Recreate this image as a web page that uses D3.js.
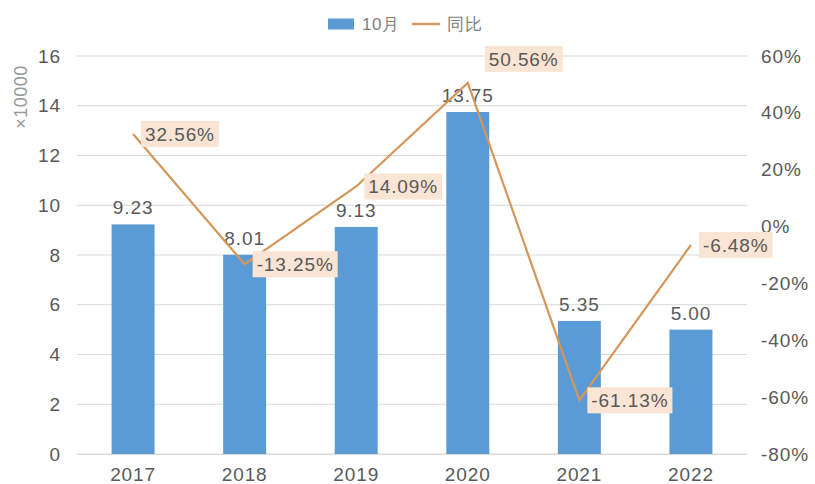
<!DOCTYPE html>
<html><head><meta charset="utf-8">
<script src="https://cdn.jsdelivr.net/npm/d3@7"></script>
<style>body{margin:0;background:#fff}svg{display:block;font-family:"Liberation Sans",Arial,sans-serif}</style>
</head><body><svg id="c" width="815" height="484"></svg>
<script>
const years = ["2017","2018","2019","2020","2021","2022"];
const octValues = [9.23, 8.01, 9.13, 13.75, 5.35, 5.00];
const yoyValues = [32.56, -13.25, 14.09, 50.56, -61.13, -6.48];
const leftTicks = [0,2,4,6,8,10,12,14,16];
const rightTicks = [-80,-60,-40,-20,0,20,40,60];
const seriesNames = ["10月","同比"];

const svg = d3.select("#c");
const m = {l:77, r:747, t:56, b:454};
const x = d3.scaleBand().domain(years).range([m.l, m.r]).paddingInner(0.615).paddingOuter(0.31);
const yL = d3.scaleLinear().domain([0,16]).range([m.b, m.t]);
const yR = d3.scaleLinear().domain([-80,60]).range([m.b, m.t]);
const txt = "#595959", grid = "#d9d9d9", barC = "#5b9bd5", lineC = "#d6965a", boxC = "#fae4d3";
const FS = "19px", LS = "0.9px";

// gridlines
svg.append("g").selectAll("line").data(leftTicks).join("line")
  .attr("x1", m.l).attr("x2", m.r).attr("y1", d=>yL(d)).attr("y2", d=>yL(d))
  .attr("stroke", grid).attr("stroke-width",1);

// left axis
const ga = svg.append("g").attr("transform",`translate(${m.l},0)`)
  .call(d3.axisLeft(yL).tickValues(leftTicks).tickSize(0).tickPadding(16));
ga.select(".domain").remove();
ga.selectAll("text").attr("fill",txt).style("font-size",FS).style("letter-spacing",LS);

// right axis
const gr = svg.append("g").attr("transform",`translate(${m.r},0)`)
  .call(d3.axisRight(yR).tickValues(rightTicks).tickSize(0).tickPadding(14).tickFormat(d=>d+"%"));
gr.select(".domain").remove();
gr.selectAll("text").attr("fill",txt).style("font-size",FS).style("letter-spacing",LS);

// x axis
const gx = svg.append("g").attr("transform",`translate(0,${m.b})`)
  .call(d3.axisBottom(x).tickSize(0).tickPadding(14));
gx.select(".domain").attr("stroke", grid);
gx.selectAll("text").attr("fill",txt).style("font-size",FS).style("letter-spacing",LS);

// unit label
svg.append("text").attr("transform","translate(20.5,97) rotate(-90)").attr("text-anchor","middle")
  .attr("dy","0.35em").attr("fill","#999").style("font-size","18px").style("letter-spacing","0.5px").text("×10000");

// bars
svg.append("g").selectAll("rect").data(octValues).join("rect")
  .attr("x",(d,i)=>x(years[i])).attr("width",x.bandwidth())
  .attr("y",d=>yL(d)).attr("height",d=>yL(0)-yL(d)).attr("fill",barC);
svg.append("g").selectAll("text").data(octValues).join("text")
  .attr("x",(d,i)=>x(years[i])+x.bandwidth()/2).attr("y",d=>yL(d)-10)
  .attr("text-anchor","middle").attr("fill",txt).style("font-size",FS).style("letter-spacing",LS).text(d=>d.toFixed(2));

// line
const cx = i => x(years[i])+x.bandwidth()/2;
svg.append("path").datum(yoyValues)
  .attr("d", d3.line().x((d,i)=>cx(i)).y(d=>yR(d)))
  .attr("fill","none").attr("stroke",lineC).attr("stroke-width",2.2);

// line labels
const maxV = d3.max(yoyValues);
const lg = svg.append("g").selectAll("g").data(yoyValues).join("g")
  .attr("transform",(d,i)=>`translate(${cx(i)+(d===maxV?17:8)},${yR(d) - (d===maxV?24:0)})`);
lg.each(function(d){
  const g = d3.select(this);
  const t = g.append("text").attr("x",4).attr("dy","0.36em").attr("fill",txt)
    .style("font-size",FS).style("letter-spacing",LS).text(d.toFixed(2)+"%");
  const w = t.node().getComputedTextLength();
  g.insert("rect","text").attr("x",0).attr("y",-13).attr("width",w+8).attr("height",26).attr("fill",boxC);
});

// legend
const leg = svg.append("g").attr("transform","translate(328,24)");
leg.append("rect").attr("x",0).attr("y",-5.5).attr("width",26).attr("height",11).attr("fill",barC);
leg.append("text").attr("x",34).attr("dy","0.35em").attr("fill","#7f7f7f").style("font-size","17px").style("letter-spacing","0.5px").text(seriesNames[0]);
leg.append("line").attr("x1",84).attr("x2",112).attr("y1",0).attr("y2",0).attr("stroke",lineC).attr("stroke-width",2.5);
leg.append("text").attr("x",119).attr("dy","0.35em").attr("fill","#7f7f7f").style("font-size","17px").style("letter-spacing","1px").text(seriesNames[1]);
</script></body></html>
